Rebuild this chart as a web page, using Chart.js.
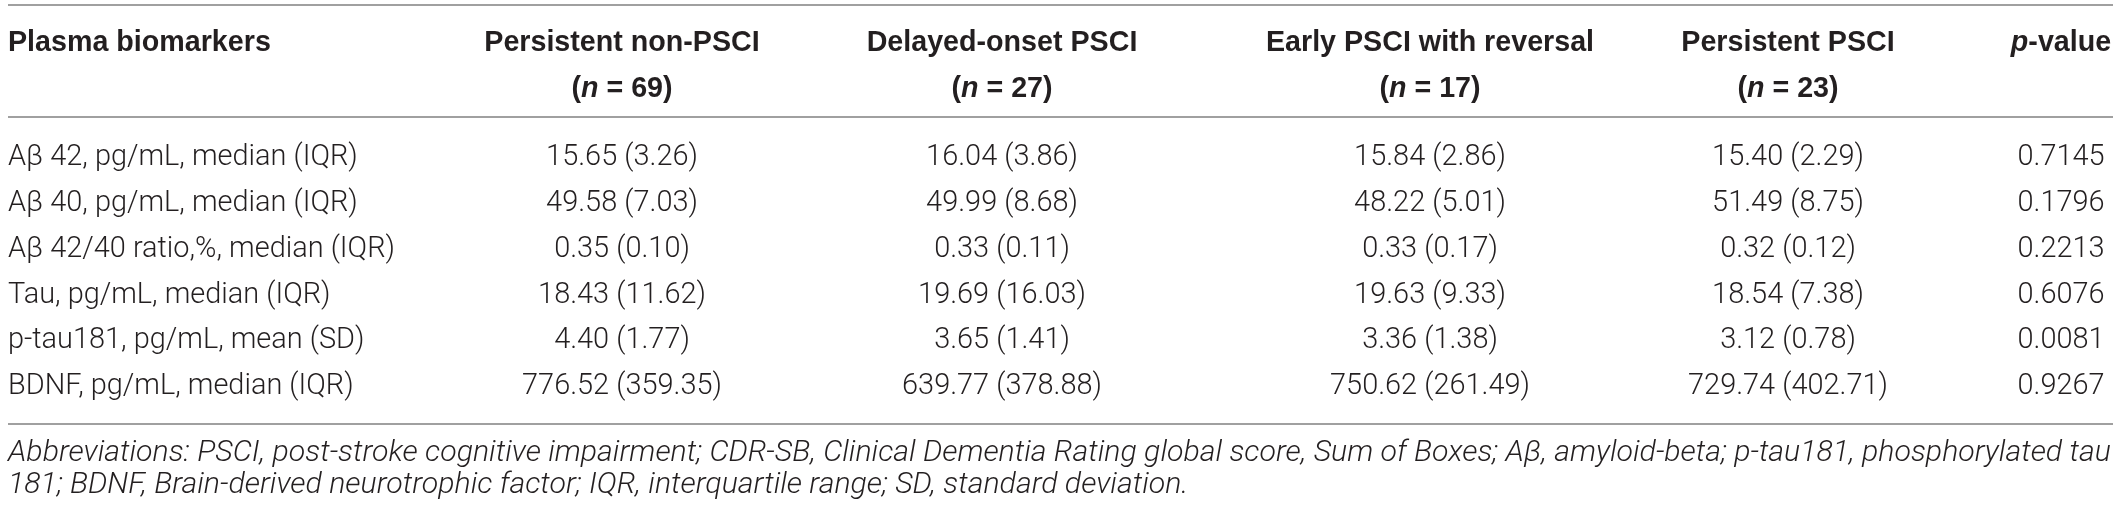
<!DOCTYPE html>
<html>
<head>
<meta charset="utf-8">
<script src="https://cdn.jsdelivr.net/npm/chart.js@4.4.1/dist/chart.umd.min.js"></script>
<style>
  html, body { margin: 0; padding: 0; background: #ffffff; }
  #wrap { width: 2120px; height: 510px; }
</style>
</head>
<body>
<div id="wrap"><canvas id="tableChart" width="2120" height="510"></canvas></div>
<script>
// --- table data ---
const BIOMARKERS = [
  'Aβ 42, pg/mL, median (IQR)',
  'Aβ 40, pg/mL, median (IQR)',
  'Aβ 42/40 ratio,%, median (IQR)',
  'Tau, pg/mL, median (IQR)',
  'p-tau181, pg/mL, mean (SD)',
  'BDNF, pg/mL, median (IQR)'
];
const GROUPS = ['Persistent non-PSCI', 'Delayed-onset PSCI', 'Early PSCI with reversal', 'Persistent PSCI'];
const GROUP_N = [69, 27, 17, 23];

const NON_PSCI = [15.65, 49.58, 0.35, 18.43, 4.40, 776.52];
const NON_PSCI_SPREAD = [3.26, 7.03, 0.10, 11.62, 1.77, 359.35];
const DELAYED = [16.04, 49.99, 0.33, 19.69, 3.65, 639.77];
const DELAYED_SPREAD = [3.86, 8.68, 0.11, 16.03, 1.41, 378.88];
const EARLY_REV = [15.84, 48.22, 0.33, 19.63, 3.36, 750.62];
const EARLY_REV_SPREAD = [2.86, 5.01, 0.17, 9.33, 1.38, 261.49];
const PERSISTENT = [15.40, 51.49, 0.32, 18.54, 3.12, 729.74];
const PERSISTENT_SPREAD = [2.29, 8.75, 0.12, 7.38, 0.78, 402.71];
const P_VALUES = [0.7145, 0.1796, 0.2213, 0.6076, 0.0081, 0.9267];

const FOOTNOTE = [
  'Abbreviations: PSCI, post-stroke cognitive impairment; CDR-SB, Clinical Dementia Rating global score, Sum of Boxes; Aβ, amyloid-beta; p-tau181, phosphorylated tau',
  '181; BDNF, Brain-derived neurotrophic factor; IQR, interquartile range; SD, standard deviation.'
];

// --- layout (x in canvas units, y in row units) ---
const COL_X = [8, 622, 1002, 1430, 1788, 2061];
const RULE_X = [8, 2113];
const ROW = { topRule: -3.34, head1: -2.51, head2: -1.51, headRule: -0.895, bottomRule: 5.81, foot1: 6.44, foot2: 7.14 };
const TEXT = '#231f20';
const RULE = '#a0a0a0';
const BODY_FAMILY = 'Roboto, "Liberation Sans", sans-serif';
const HEAD_FAMILY = '"Liberation Sans", Arial, sans-serif';

const GROUP_VALUES = [NON_PSCI, DELAYED, EARLY_REV, PERSISTENT];
const GROUP_SPREADS = [NON_PSCI_SPREAD, DELAYED_SPREAD, EARLY_REV_SPREAD, PERSISTENT_SPREAD];

function cellText(col, i) {
  if (col === 0) return BIOMARKERS[i];
  if (col === 5) return P_VALUES[i].toFixed(4);
  return `${GROUP_VALUES[col - 1][i].toFixed(2)} (${GROUP_SPREADS[col - 1][i].toFixed(2)})`;
}

// size a font so a reference string gets a given width
function fitSize(ctx, text, style, family, target) {
  ctx.font = `${style} 100px ${family}`;
  return 100 * target / ctx.measureText(text).width;
}

// draw a run of [text, fontStyle] parts centred (or left aligned) at x
function drawRuns(ctx, runs, size, family, x, y, align) {
  let total = 0;
  runs.forEach(([t, s]) => { ctx.font = `${s} ${size}px ${family}`; total += ctx.measureText(t).width; });
  let cx = align === 'center' ? x - total / 2 : x;
  ctx.textAlign = 'left';
  runs.forEach(([t, s]) => {
    ctx.font = `${s} ${size}px ${family}`;
    ctx.fillText(t, cx, y);
    cx += ctx.measureText(t).width;
  });
}

const tablePlugin = {
  id: 'tableText',
  afterDatasetsDraw(chart) {
    const { ctx, scales: { x, y } } = chart;
    const bodySize = fitSize(ctx, BIOMARKERS[0], '300', BODY_FAMILY, 350);
    const headSize = fitSize(ctx, 'Plasma biomarkers', 'bold', HEAD_FAMILY, 263);
    const footSize = fitSize(ctx, FOOTNOTE[0], 'italic 300', BODY_FAMILY, 2104);

    ctx.save();
    ctx.fillStyle = TEXT;
    ctx.textBaseline = 'middle';

    // rules
    ctx.strokeStyle = RULE;
    ctx.lineWidth = 2;
    [ROW.topRule, ROW.headRule, ROW.bottomRule].forEach(r => {
      const py = Math.round(y.getPixelForValue(r));
      ctx.beginPath();
      ctx.moveTo(x.getPixelForValue(RULE_X[0]), py);
      ctx.lineTo(x.getPixelForValue(RULE_X[1]), py);
      ctx.stroke();
    });

    // header
    const h1 = y.getPixelForValue(ROW.head1);
    const h2 = y.getPixelForValue(ROW.head2);
    drawRuns(ctx, [['Plasma biomarkers', 'bold']], headSize, HEAD_FAMILY, x.getPixelForValue(COL_X[0]), h1, 'left');
    GROUPS.forEach((g, k) => {
      const cx = x.getPixelForValue(COL_X[k + 1]);
      drawRuns(ctx, [[g, 'bold']], headSize, HEAD_FAMILY, cx, h1, 'center');
      drawRuns(ctx, [['(', 'bold'], ['n', 'italic bold'], [` = ${GROUP_N[k]})`, 'bold']], headSize, HEAD_FAMILY, cx, h2, 'center');
    });
    drawRuns(ctx, [['p', 'italic bold'], ['-value', 'bold']], headSize, HEAD_FAMILY, x.getPixelForValue(COL_X[5]), h1, 'center');

    // body cells from the dataset points
    chart.data.datasets.forEach((ds, di) => {
      const meta = chart.getDatasetMeta(di);
      meta.data.forEach((pt, i) => {
        drawRuns(ctx, [[cellText(ds.col, i), '300']], bodySize, BODY_FAMILY, pt.x, pt.y, ds.col === 0 ? 'left' : 'center');
      });
    });

    // footnote
    drawRuns(ctx, [[FOOTNOTE[0], 'italic 300']], footSize, BODY_FAMILY, x.getPixelForValue(COL_X[0]), y.getPixelForValue(ROW.foot1), 'left');
    drawRuns(ctx, [[FOOTNOTE[1], 'italic 300']], footSize, BODY_FAMILY, x.getPixelForValue(COL_X[0]), y.getPixelForValue(ROW.foot2), 'left');
    ctx.restore();
  }
};

const datasets = COL_X.map((cx, col) => ({
  col,
  data: BIOMARKERS.map(b => ({ x: cx, y: b })),
  pointRadius: 0,
  showLine: false
}));

new Chart(document.getElementById('tableChart'), {
  type: 'scatter',
  data: { datasets },
  options: {
    responsive: false,
    devicePixelRatio: 1,
    animation: false,
    layout: { padding: { top: 135.1, bottom: 100.1, left: 0, right: 0 } },
    plugins: { legend: { display: false }, tooltip: { enabled: false } },
    scales: {
      x: { type: 'linear', min: 0, max: 2120, display: false },
      y: { type: 'category', labels: BIOMARKERS, offset: true, display: false }
    }
  },
  plugins: [tablePlugin]
});
</script>
</body>
</html>
